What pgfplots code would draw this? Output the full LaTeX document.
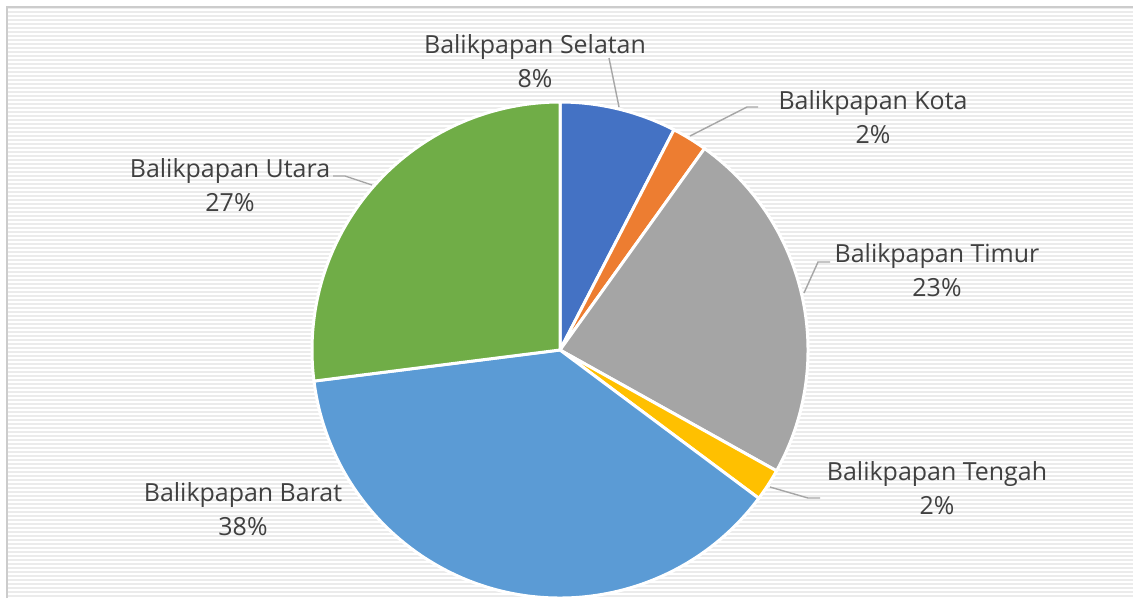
\documentclass[border=0pt]{standalone}
\usepackage{fontspec}
\setmainfont{Open Sans}
\usepackage{pgfplots}
\pgfplotsset{compat=1.18}

\definecolor{cSel}{HTML}{4472C4}
\definecolor{cKot}{HTML}{ED7D31}
\definecolor{cTim}{HTML}{A5A5A5}
\definecolor{cTen}{HTML}{FFC000}
\definecolor{cBar}{HTML}{5B9BD5}
\definecolor{cUta}{HTML}{70AD47}
\definecolor{txt}{HTML}{404040}
\definecolor{lead}{HTML}{A6A6A6}
\definecolor{stripe}{HTML}{EBEBEB}

% pie slice: start (cumulative %), value (%), colour; radius 248px = 4.96cm
\newcommand\slice[3]{%
  \fill[#3, draw=white, line width=1.7pt, line join=round]
    (axis cs:560,350) -- ++({90-3.6*#1}:4.96cm)
    arc[start angle={90-3.6*#1}, delta angle={-3.6*#2}, radius=4.96cm] -- cycle;}

\tikzset{lbl/.style={text=txt, font=\fontsize{14.2pt}{19.4pt}\selectfont, align=center, inner sep=0pt}}

\begin{document}
\begin{tikzpicture}
\begin{axis}[
    scale only axis,
    width=22.66cm, height=11.96cm,
    xmin=0, xmax=1133, ymin=0, ymax=598,
    y dir=reverse,
    hide axis,
    clip=false,
]
% background
\fill[white] (axis cs:7,7) rectangle (axis cs:1133,598);
\foreach \yy in {8,12,...,596}{
  \edef\tmp{\noexpand\draw[stripe, line width=1.1pt] (axis cs:7,\yy) -- (axis cs:1133,\yy);}\tmp}
\draw[gray!40, line width=0.6pt] (axis cs:7,598) -- (axis cs:7,7) -- (axis cs:1133,7);

% slices (percent): Selatan 7.6, Kota 2.3, Timur 23.2, Tengah 2.1, Barat 37.8, Utara 27.0
\slice{0}{7.6}{cSel}
\slice{7.6}{2.3}{cKot}
\slice{9.9}{23.2}{cTim}
\slice{33.1}{2.1}{cTen}
\slice{35.2}{37.8}{cBar}
\slice{73.0}{27.0}{cUta}

% leader lines
\draw[lead, line width=0.8pt] (axis cs:609,58) -- (axis cs:619,107);
\draw[lead, line width=0.8pt] (axis cs:690,136) -- (axis cs:747,107) -- (axis cs:758,107);
\draw[lead, line width=0.8pt] (axis cs:804,293) -- (axis cs:818,262) -- (axis cs:830,262);
\draw[lead, line width=0.8pt] (axis cs:770,487) -- (axis cs:808,498) -- (axis cs:820,498);
\draw[lead, line width=0.8pt] (axis cs:372,185) -- (axis cs:345,176) -- (axis cs:333,176);

% labels
\node[lbl] at (axis cs:535,61) {Balikpapan Selatan\\8\%};
\node[lbl] at (axis cs:873,117) {Balikpapan Kota\\2\%};
\node[lbl] at (axis cs:937,270) {Balikpapan Timur\\23\%};
\node[lbl] at (axis cs:937,488) {Balikpapan Tengah\\2\%};
\node[lbl] at (axis cs:230,185) {Balikpapan Utara\\27\%};
\node[lbl] at (axis cs:243,509) {Balikpapan Barat\\38\%};
\end{axis}
\pgfresetboundingbox
\useasboundingbox (current axis.south west) rectangle (current axis.north east);
\end{tikzpicture}
\end{document}
